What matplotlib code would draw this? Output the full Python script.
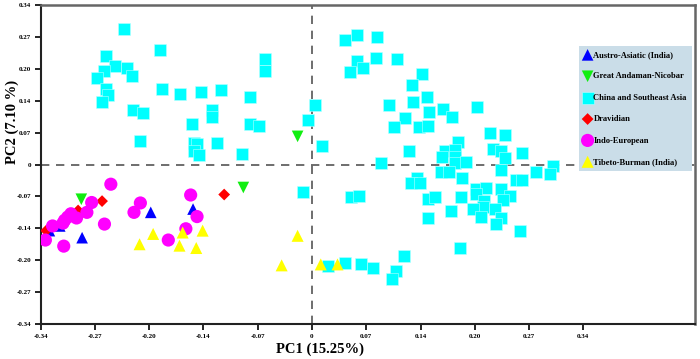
import numpy as np
import matplotlib
matplotlib.use("Agg")
from matplotlib import pyplot as plt

plt.rcParams['font.family'] = ['Liberation Serif', 'DejaVu Serif']
plt.rcParams['font.weight'] = 'bold'

# PC1 / PC2 scores per group
austro_x = [-0.329, -0.316, -0.288, -0.202, -0.149]
austro_y = [-0.141, -0.131, -0.156, -0.102, -0.095]

andaman_x = [-0.289, -0.086, -0.018]
andaman_y = [-0.074, -0.049, 0.060]

china_x = [-0.236, -0.190, -0.258, -0.247, -0.261, -0.232, -0.225, -0.269, -0.059, -0.059,
           -0.258, -0.255, -0.263, -0.188, -0.165, -0.139, -0.114, -0.078, -0.224, -0.212,
           -0.125, -0.125, -0.150, -0.078, -0.066, -0.216, -0.148, -0.144, -0.119, -0.148,
           -0.142, -0.088, 0.004, -0.005, 0.013, -0.011, 0.041, 0.057, 0.082, 0.056,
           0.080, 0.106, 0.048, 0.064, 0.138, 0.125, 0.097, 0.127, 0.144, 0.117,
           0.146, 0.164, 0.176, 0.207, 0.103, 0.134, 0.145, 0.223, 0.242, 0.122,
           0.183, 0.167, 0.179, 0.227, 0.237, 0.263, 0.163, 0.179, 0.179, 0.193,
           0.242, 0.087, 0.302, 0.237, 0.162, 0.172, 0.188, 0.281, 0.298, 0.131,
           0.124, 0.135, 0.256, 0.263, 0.206, 0.218, 0.237, 0.206, 0.145, 0.154,
           0.187, 0.248, 0.239, 0.215, 0.214, 0.202, 0.229, 0.174, 0.212, 0.237,
           0.145, 0.231, 0.260, 0.186, 0.115, 0.076, 0.105, 0.100, 0.020, 0.041,
           0.062, 0.049, 0.059]
china_y = [0.288, 0.244, 0.232, 0.211, 0.200, 0.205, 0.189, 0.185, 0.225, 0.199,
           0.161, 0.149, 0.134, 0.161, 0.150, 0.154, 0.158, 0.144, 0.117, 0.110,
           0.116, 0.101, 0.087, 0.087, 0.083, 0.050, 0.046, 0.044, 0.046, 0.029,
           0.021, 0.022, 0.127, 0.094, 0.040, -0.059, 0.265, 0.276, 0.272, 0.220,
           0.227, 0.225, 0.197, 0.206, 0.194, 0.169, 0.127, 0.134, 0.143, 0.099,
           0.112, 0.119, 0.102, 0.122, 0.080, 0.080, 0.083, 0.067, 0.062, 0.028,
           0.047, 0.029, 0.031, 0.033, 0.029, 0.024, 0.015, 0.017, 0.004, 0.006,
           0.014, 0.003, -0.003, -0.012, -0.015, -0.016, -0.029, -0.017, -0.020, -0.029,
           -0.040, -0.040, -0.034, -0.034, -0.052, -0.050, -0.052, -0.062, -0.073, -0.069,
           -0.070, -0.067, -0.075, -0.077, -0.090, -0.094, -0.094, -0.100, -0.111, -0.113,
           -0.113, -0.126, -0.141, -0.178, -0.196, -0.221, -0.228, -0.244, -0.217, -0.209,
           -0.212, -0.069, -0.067]

dravid_x = [-0.333, -0.293, -0.263, -0.110]
dravid_y = [-0.141, -0.098, -0.078, -0.064]

indoeu_x = [-0.252, -0.152, -0.215, -0.223, -0.144, -0.158, -0.180, -0.276, -0.282,
            -0.260, -0.295, -0.302, -0.306, -0.310, -0.312, -0.325, -0.334, -0.311]
indoeu_y = [-0.042, -0.065, -0.082, -0.102, -0.111, -0.137, -0.161, -0.081, -0.102,
            -0.127, -0.114, -0.105, -0.112, -0.119, -0.125, -0.131, -0.161, -0.174]

tibeto_x = [-0.216, -0.199, -0.162, -0.166, -0.145, -0.137, -0.018, -0.038, 0.011, 0.032]
tibeto_y = [-0.170, -0.148, -0.145, -0.173, -0.178, -0.141, -0.152, -0.215, -0.213, -0.213]

ticks = np.linspace(-0.34, 0.34, 11)
tick_labels = ["0" if abs(t) < 1e-9 else "%.2f" % t for t in ticks]

fig = plt.figure(figsize=(7, 3.59), dpi=100)
ax = fig.add_axes([0.058, 0.0975, 0.935, 0.8885])

# dashed lines through the origin
ax.axhline(0, color="#555555", lw=1.2, ls=(0, (5, 4)), zorder=1)
ax.axvline(0, color="#555555", lw=1.2, ls=(0, (5, 4)), zorder=1)

ax.scatter(austro_x, austro_y, marker="^", s=70, color="#0000ff", edgecolors="none", label="Austro-Asiatic (India)", zorder=3)
ax.scatter(andaman_x, andaman_y, marker="v", s=70, color="#11ee11", edgecolors="none", label="Great Andaman-Nicobar", zorder=3)
ax.scatter(china_x, china_y, marker="s", s=72, color="#00ffff", edgecolors="#b8ffff", linewidths=0.4, label="China and Southeast Asia", zorder=3)
ax.scatter(dravid_x, dravid_y, marker="D", s=36, color="#ff0000", edgecolors="none", label="Dravidian", zorder=3)
ax.scatter(indoeu_x, indoeu_y, marker="o", s=90, color="#ff00ff", edgecolors="none", label="Indo-European", zorder=3)
ax.scatter(tibeto_x, tibeto_y, marker="^", s=75, color="#ffff00", edgecolors="none", label="Tibeto-Burman (India)", zorder=3)

ax.set_xlim(-0.34, 0.48)
ax.set_ylim(-0.34, 0.34)
ax.set_xticks(ticks)
ax.set_xticklabels(tick_labels)
ax.set_yticks(ticks)
ax.set_yticklabels(tick_labels)
ax.tick_params(direction="out", length=4, width=1.2, labelsize=5, pad=3)

for side in ["left", "bottom"]:
    ax.spines[side].set_linewidth(1.5)
    ax.spines[side].set_color("#222222")
for side in ["top", "right"]:
    ax.spines[side].set_linewidth(1.8)
    ax.spines[side].set_color("#666666")

ax.set_xlabel("PC1 (15.25%)", fontsize=10.5, fontweight="bold")
ax.xaxis.set_label_coords(0.427, -0.058)
ax.set_ylabel("PC2 (7.10 %)", fontsize=10.5, fontweight="bold")
ax.yaxis.set_label_coords(-0.033, 0.633)

leg = ax.legend(loc="upper right", bbox_to_anchor=(0.995, 0.8715), fontsize=6.1,
                labelspacing=1.58, handletextpad=0.28, handlelength=0.8, borderpad=0.6,
                borderaxespad=0, frameon=True, fancybox=False, markerscale=1.0,
                scatterpoints=1)
leg.get_frame().set_facecolor("#cadde8")
leg.get_frame().set_edgecolor("none")
leg.get_frame().set_alpha(1)

plt.savefig("out.png", dpi=100)
